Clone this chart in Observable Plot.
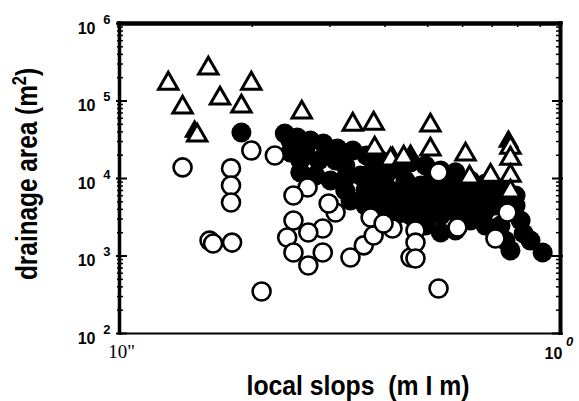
<!DOCTYPE html>
<html><head><meta charset="utf-8">
<script src="https://cdn.jsdelivr.net/npm/d3@7"></script>
<script src="https://cdn.jsdelivr.net/npm/@observablehq/plot@0.6"></script>
<style>body{margin:0;background:#fff} svg{display:block}</style>
</head><body><div id="chart"></div>
<script>
// ---- data (local slope m/m, drainage area m^2) ----
const openTriSlope = [0.129,0.139,0.150,0.159,0.169,0.199,0.189,0.259,0.338,0.377,0.379,0.412,0.441,0.507,0.507,0.609,0.770,0.770,0.770,0.770,0.622,0.694];
const openTriArea  = [1.68e5,8.24e4,3.59e4,2.63e5,1.08e5,1.68e5,8.49e4,7.11e4,4.97e4,5.12e4,2.44e4,1.76e4,1.87e4,4.83e4,2.37e4,2.04e4,2.5e4,1.81e4,1.09e4,6.8e3,1.03e4,1.09e4];

const filledTriSlope = [0.148,0.416,0.457,0.762];
const filledTriArea  = [4.04e4,1.87e4,1.98e4,3.00e4];

const filledCircSlope = [0.189,0.237,0.253,0.271,0.290,0.312,0.244,0.283,0.325,0.257,0.301,0.338,0.363,0.391,0.423,0.457,0.494,0.535,0.578,0.625,0.676,0.731,0.791,0.352,0.381,0.412,0.445,0.482,0.521,0.563,0.609,0.659,0.712,0.770,0.334,0.361,0.391,0.423,0.457,0.494,0.535,0.578,0.625,0.676,0.731,0.791,0.825,0.770,0.911,0.855,0.535,0.578,0.423,0.457,0.325,0.309,0.361,0.507,0.625,0.549,
  0.257,0.278,0.325,0.375,0.401,0.434,0.469,0.507,0.593,0.642,0.694,0.750,0.812,0.676,0.578,0.535,0.494,0.244,0.264,0.301,0.391,0.750];
const filledCircArea  = [3.92e4,3.81e4,3.38e4,3.09e4,2.83e4,2.44e4,2.17e4,1.71e4,1.47e4,1.20e4,9.42e3,2.30e4,1.98e4,1.71e4,1.35e4,1.61e4,1.47e4,1.27e4,1.20e4,9.42e3,8.62e3,7.43e3,6.03e3,1.09e4,8.12e3,7.00e3,9.42e3,8.12e3,7.00e3,6.03e3,5.52e3,5.20e3,4.48e3,3.87e3,5.20e3,4.48e3,4.10e3,4.48e3,5.20e3,3.87e3,3.33e3,3.64e3,2.87e3,2.47e3,2.47e3,4.48e3,1.95e3,1.18e3,1.11e3,1.58e3,2.01e3,2.13e3,3.33e3,3.33e3,7.00e3,1.71e4,7.00e3,5.20e3,4.48e3,8.62e3,
  1.71e4,1.09e4,1.00e4,1.27e4,1.09e4,6.03e3,6.03e3,8.88e3,8.12e3,7.00e3,6.03e3,5.20e3,2.87e3,3.87e3,5.20e3,5.20e3,2.47e3,3.09e4,2.44e4,1.98e4,6.03e3,1.58e3];

const openCircSlope = [0.139,0.199,0.179,0.179,0.179,0.160,0.163,0.180,0.210,0.225,0.267,0.248,0.248,0.240,0.248,0.289,0.268,0.289,0.268,0.309,0.298,0.334,0.358,0.377,0.371,0.416,0.397,0.457,0.469,0.469,0.469,0.529,0.529,0.584,0.712,0.758];
const openCircArea  = [1.39e4,2.30e4,1.35e4,8.12e3,4.90e3,1.58e3,1.45e3,1.49e3,3.48e2,1.98e4,7.65e3,6.03e3,2.87e3,1.73e3,1.11e3,1.11e3,7.54e2,2.26e3,2.01e3,3.64e3,4.76e3,9.57e2,1.37e3,1.84e3,3.14e3,2.26e3,2.63e3,9.57e2,2.13e3,1.49e3,9.29e2,3.81e2,1.20e4,2.33e3,1.68e3,3.64e3];

const xDomain = [0.1, 1];
const yDomain = [1e2, 1e6];
const yTickValues = [1e2, 1e3, 1e4, 1e5, 1e6];
const yTickExponents = ["2", "3", "4", "5", "6"];
const yMinorTicks = [2e2,3e2,4e2,5e2,6e2,7e2,8e2,9e2,2e3,3e3,4e3,5e3,6e3,7e3,8e3,9e3,2e4,3e4,4e4,5e4,6e4,7e4,8e4,9e4,2e5,3e5,4e5,5e5,6e5,7e5,8e5,9e5];
const xMinorTicks = [0.2,0.3,0.4,0.5,0.6,0.7,0.8,0.9];
const xTickLeftLabel = '10"';
const xTickRightLabel = "10";
const xTickRightExponent = "0";
const yTitle = "drainage area (m";
const yTitleSup = "2";
const xTitle = "local slops  (m I m)";

// ---- layout ----
const W = 579, H = 401, mL = 119, mR = 19, mT = 23, mB = 68;
const pw = W - mL - mR, ph = H - mT - mB;
const pts = (xs, ys) => xs.map((x, i) => ({x, y: ys[i]}));
const sans = "'Liberation Sans', Arial, Helvetica, sans-serif";

const chart = Plot.plot({
  width: W, height: H,
  marginLeft: mL, marginRight: mR, marginTop: mT, marginBottom: mB,
  x: {type: "log", domain: xDomain, axis: null},
  y: {type: "log", domain: yDomain, axis: null},
  style: {background: "white", fontFamily: sans, color: "black"},
  marks: [
    Plot.dot(pts(filledCircSlope, filledCircArea), {x: "x", y: "y", r: 10, fill: "black"}),
    Plot.dot(pts(filledTriSlope, filledTriArea), {x: "x", y: "y", symbol: "triangle", r: 8, fill: "black"}),
    Plot.dot(pts(openCircSlope, openCircArea), {x: "x", y: "y", r: 9, fill: "white", stroke: "black", strokeWidth: 2.6}),
    Plot.dot(pts(openTriSlope, openTriArea), {x: "x", y: "y", symbol: "triangle", r: 7.2, fill: "white", stroke: "black", strokeWidth: 3, strokeLinejoin: "miter"}),
    // inner ticks
    Plot.tickX(xMinorTicks, {x: d => d, insetBottom: ph - 4, strokeWidth: 1.5}),
    Plot.tickY(yMinorTicks, {y: d => d, insetLeft: -2, insetRight: pw - 4, strokeWidth: 1.5}),
    Plot.tickY(yTickValues, {y: d => d, insetLeft: -3, insetRight: pw - 8, strokeWidth: 2}),
    Plot.tickY(yMinorTicks, {y: d => d, insetLeft: pw - 4, insetRight: -2, strokeWidth: 1.5}),
    Plot.tickY(yTickValues, {y: d => d, insetLeft: pw - 8, insetRight: -3, strokeWidth: 2}),
    // frame
    Plot.ruleX([xDomain[0]], {strokeWidth: 3.5, strokeLinecap: "square"}),
    Plot.ruleX([xDomain[1]], {strokeWidth: 4, strokeLinecap: "square"}),
    Plot.ruleY([yDomain[1]], {strokeWidth: 4.5, strokeLinecap: "square"}),
    Plot.ruleY([yDomain[0]], {strokeWidth: 2}),
    // y tick labels
    Plot.text(yTickValues, {y: d => d, frameAnchor: "left", text: () => "10", dx: -24, dy: 5, textAnchor: "end", fontWeight: "bold", fontSize: 16, fontFamily: sans}),
    Plot.text(yTickValues, {y: d => d, frameAnchor: "left", text: (d, i) => yTickExponents[i], dx: -9, dy: -4, textAnchor: "end", fontWeight: "bold", fontSize: 13, fontFamily: sans}),
    // x tick labels
    Plot.text([xDomain[0]], {x: d => d, frameAnchor: "bottom", text: () => xTickLeftLabel, dx: 2, dy: 24, textAnchor: "middle", fontSize: 19, fontFamily: "'Liberation Serif', 'Times New Roman', serif"}),
    Plot.text([xDomain[1]], {x: d => d, frameAnchor: "bottom", text: () => xTickRightLabel, dx: -7, dy: 25, textAnchor: "middle", fontWeight: "bold", fontSize: 16, fontFamily: sans}),
    Plot.text([xDomain[1]], {x: d => d, frameAnchor: "bottom", text: () => xTickRightExponent, dx: 9, dy: 12, textAnchor: "middle", fontWeight: "bold", fontStyle: "italic", fontSize: 13, fontFamily: sans})
  ]
});

const svg = d3.select(chart);
// y axis title
const yt = svg.append("text")
  .attr("transform", "translate(37,174) rotate(-90)")
  .attr("text-anchor", "middle")
  .attr("font-family", sans).attr("font-weight", "bold").attr("font-size", 30)
  .attr("textLength", 212).attr("lengthAdjust", "spacingAndGlyphs")
  .attr("fill", "black");
yt.append("tspan").text(yTitle);
yt.append("tspan").attr("font-size", 20).attr("dy", -11).text(yTitleSup);
yt.append("tspan").attr("dy", 11).text(")");
// x axis title
svg.append("text")
  .attr("x", 358).attr("y", 395)
  .attr("text-anchor", "middle")
  .attr("font-family", sans).attr("font-weight", "bold").attr("font-size", 28)
  .attr("textLength", 223).attr("lengthAdjust", "spacingAndGlyphs")
  .attr("fill", "black")
  .text(xTitle);

document.getElementById("chart").appendChild(chart);
</script>
</body></html>
